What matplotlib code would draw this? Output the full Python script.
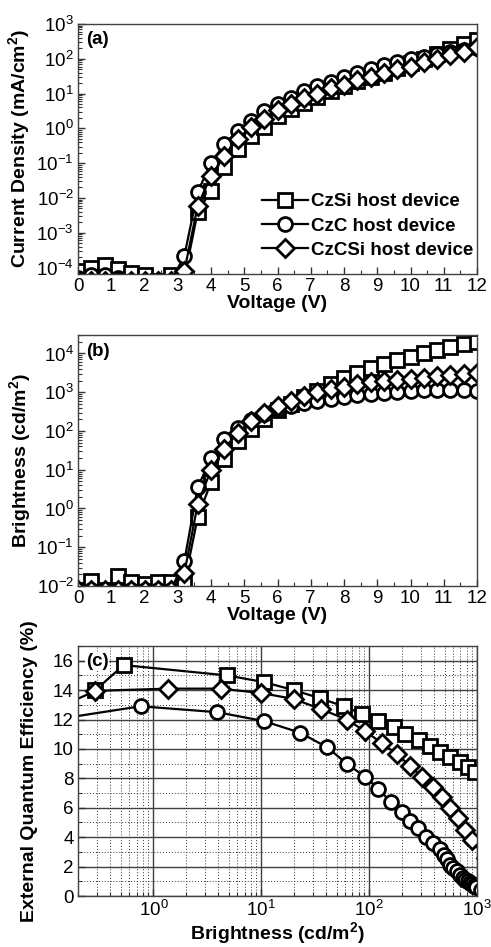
import numpy as np
import matplotlib.pyplot as plt
from matplotlib.ticker import LogLocator, MultipleLocator, NullFormatter

plt.rcParams['font.family'] = 'Liberation Sans'
plt.rcParams['mathtext.fontset'] = 'custom'
plt.rcParams['mathtext.rm'] = 'Liberation Sans'
plt.rcParams['mathtext.it'] = 'Liberation Sans:italic'
plt.rcParams['mathtext.bf'] = 'Liberation Sans:bold'

labels = ['CzSi host device', 'CzC host device', 'CzCSi host device']
markers = ['s', 'o', 'D']

# voltage sweep (V)
voltage = [0.0, 0.4, 0.8, 1.2, 1.6, 2.0, 2.4, 2.8, 3.2, 3.6, 4.0, 4.4, 4.8, 5.2, 5.6, 6.0,
           6.4, 6.8, 7.2, 7.6, 8.0, 8.4, 8.8, 9.2, 9.6, 10.0, 10.4, 10.8, 11.2, 11.6, 12.0]

# (a) current density, mA/cm2
j_czsi = [8e-5, 9.5e-5, 1.2e-4, 9e-5, 7e-5, 6e-5, 4e-5, 6e-5, 5e-5, 4e-3, 1.6e-2, 7.7e-2, 0.25, 0.6, 1.1, 2.2,
          3.5, 5.5, 8, 12, 17, 23, 30, 40, 55, 75, 100, 140, 190, 260, 350]
j_czc = [5e-5, 6e-5, 6e-5, 5e-5, 4e-5, 4e-5, 4e-5, 4e-5, 2.2e-4, 1.5e-2, 0.1, 0.35, 0.83, 1.6, 3.1, 5,
         7.7, 11.5, 17, 22, 30, 40, 52, 67, 80, 100, 115, 140, 160, 180, 200]
j_czcsi = [4e-5, 4e-5, 4e-5, 4e-5, 4e-5, 4e-5, 4e-5, 4e-5, 8e-5, 6e-3, 0.043, 0.16, 0.49, 1.1, 1.8, 3.3,
           5, 7.5, 10, 14, 18, 24, 30, 38, 50, 60, 80, 100, 130, 160, 220]

# (b) brightness, cd/m2
l_czsi = [0.008, 0.0135, 0.008, 0.018, 0.013, 0.011, 0.013, 0.013, 0.012, 0.6, 4.7, 19, 56, 115, 210, 340,
          510, 750, 1100, 1600, 2300, 3100, 4200, 5300, 6800, 8200, 10000, 12500, 15000, 17500, 19500]
l_czc = [0.008, 0.008, 0.008, 0.008, 0.008, 0.008, 0.008, 0.008, 0.045, 3.5, 20, 63, 120, 190, 280, 360,
         430, 520, 600, 680, 760, 850, 920, 980, 1030, 1080, 1120, 1150, 1150, 1150, 1100]
l_czcsi = [0.008, 0.008, 0.008, 0.008, 0.008, 0.008, 0.008, 0.008, 0.022, 1.3, 10, 35, 90, 180, 300, 450,
           600, 800, 1000, 1200, 1400, 1600, 1800, 2000, 2100, 2200, 2400, 2600, 2800, 3000, 3200]

# (c) EQE vs brightness
b_czsi = [0.29, 0.53, 4.8, 10.5, 20, 35, 58, 85, 122, 170, 215, 290, 365, 455, 560, 690, 830, 960]
eqe_czsi = [14.0, 15.7, 15.0, 14.55, 14.0, 13.45, 12.9, 12.4, 11.9, 11.5, 11.0, 10.6, 10.2, 9.8, 9.45, 9.1, 8.75, 8.4]
b_czc = [0.15, 0.76, 3.9, 10.5, 23, 41, 62, 92, 122, 158, 200, 240, 285, 340, 395, 450, 490, 530, 560,
         600, 650, 700, 740, 780, 820, 860, 900, 940, 980, 1100]
eqe_czc = [12.1, 12.9, 12.5, 11.9, 11.1, 10.1, 9.0, 8.1, 7.3, 6.4, 5.7, 5.1, 4.6, 4.0, 3.6, 3.2, 2.8, 2.5, 2.1,
           1.9, 1.7, 1.4, 1.25, 1.1, 1.0, 0.9, 0.8, 0.7, 0.6, 0.4]
b_czcsi = [0.15, 0.29, 1.38, 4.2, 10, 20, 36, 62, 92, 131, 180, 240, 307, 390, 470, 560, 670, 780, 890, 1200]
eqe_czcsi = [13.0, 13.95, 14.1, 14.1, 13.8, 13.4, 12.7, 12.0, 11.2, 10.4, 9.65, 8.85, 8.1, 7.4, 6.7, 6.0,
             5.3, 4.5, 3.8, 2.6]

W, H = 491, 947
fig = plt.figure(figsize=(W / 100, H / 100), dpi=100)

def box(top, bottom, left=78, right=477):
    return [left / W, 1 - bottom / H, (right - left) / W, (bottom - top) / H]

ax1 = fig.add_axes(box(24, 274))
ax2 = fig.add_axes(box(335, 586))
ax3 = fig.add_axes(box(646, 896))

line_kw = dict(color='black', mfc='white', mec='black', mew=2.0, lw=1.6)
sizes = {'s': 10, 'o': 10, 'D': 9}

def style(ax):
    for s in ax.spines.values():
        s.set_color('0.25')
        s.set_linewidth(1.0)
    ax.tick_params(which='both', direction='in', top=False, right=False, labelsize=13.5, color='0.2', pad=3)
    ax.tick_params(which='major', length=5, width=1)
    ax.tick_params(which='minor', length=3, width=0.8)

lab_font = dict(fontsize=14, fontweight='bold')

# (a)
for y, m, lab in zip([j_czsi, j_czc, j_czcsi], markers, labels):
    ax1.plot(voltage, y, marker=m, ms=sizes[m], label=lab, **line_kw)
ax1.set_yscale('log')
ax1.set_xlim(0, 12)
ax1.set_ylim(6.5e-5, 1000)
ax1.set_xticks(range(13))
ax1.xaxis.set_minor_locator(MultipleLocator(0.5))
ax1.yaxis.set_major_locator(LogLocator(base=10, numticks=20))
ax1.yaxis.set_minor_locator(LogLocator(base=10, subs=np.arange(2, 10), numticks=20))
ax1.yaxis.set_minor_formatter(NullFormatter())
ax1.set_xlabel('Voltage (V)', labelpad=0, **lab_font)
ax1.set_ylabel('Current Density (mA/cm$^\\mathbf{2}$)', **lab_font)
ax1.yaxis.set_label_coords(-0.115, 0.5)
ax1.text(0.02, 0.97, '(a)', transform=ax1.transAxes, fontsize=13.5, fontweight='bold', va='top')
ax1.legend(loc='lower right', frameon=False, numpoints=1, handlelength=2.5,
           prop={'weight': 'bold', 'size': 13.5}, labelspacing=0.38, handletextpad=0.15,
           borderaxespad=0.0, bbox_to_anchor=(1.01, 0.03))
style(ax1)

# (b)
for y, m in zip([l_czsi, l_czc, l_czcsi], markers):
    ax2.plot(voltage, y, marker=m, ms=sizes[m], **line_kw)
ax2.set_yscale('log')
ax2.set_xlim(0, 12)
ax2.set_ylim(1e-2, 3e4)
ax2.set_xticks(range(13))
ax2.xaxis.set_minor_locator(MultipleLocator(0.5))
ax2.yaxis.set_major_locator(LogLocator(base=10, numticks=20))
ax2.yaxis.set_minor_locator(LogLocator(base=10, subs=np.arange(2, 10), numticks=20))
ax2.yaxis.set_minor_formatter(NullFormatter())
ax2.set_xlabel('Voltage (V)', labelpad=0, **lab_font)
ax2.set_ylabel('Brightness (cd/m$^\\mathbf{2}$)', **lab_font)
ax2.yaxis.set_label_coords(-0.113, 0.5)
ax2.text(0.02, 0.97, '(b)', transform=ax2.transAxes, fontsize=13.5, fontweight='bold', va='top')
style(ax2)

# (c)
for x, y, m in zip([b_czsi, b_czc, b_czcsi], [eqe_czsi, eqe_czc, eqe_czcsi], markers):
    ax3.plot(x, y, marker=m, ms=sizes[m], **line_kw)
ax3.set_xscale('log')
ax3.set_xlim(0.2, 1000)
ax3.set_ylim(0, 17)
ax3.set_yticks(range(0, 17, 2))
ax3.yaxis.set_minor_locator(MultipleLocator(1))
ax3.xaxis.set_major_locator(LogLocator(base=10, numticks=10))
ax3.xaxis.set_minor_locator(LogLocator(base=10, subs=np.arange(2, 10), numticks=10))
ax3.xaxis.set_minor_formatter(NullFormatter())
ax3.grid(which='major', color='0.25', lw=1.0, ls='-')
ax3.grid(which='minor', color='0.2', lw=0.7, ls=(0, (1, 2)))
ax3.set_axisbelow(True)
ax3.set_xlabel('Brightness (cd/m$^\\mathbf{2}$)', labelpad=0, **lab_font)
ax3.set_ylabel('External Quantum Efficiency (%)', **lab_font)
ax3.yaxis.set_label_coords(-0.10, 0.5)
ax3.text(0.02, 0.97, '(c)', transform=ax3.transAxes, fontsize=13.5, fontweight='bold', va='top',
         bbox=dict(facecolor='white', edgecolor='none', pad=0.5))
style(ax3)

fig.savefig('out.png', dpi=100)
